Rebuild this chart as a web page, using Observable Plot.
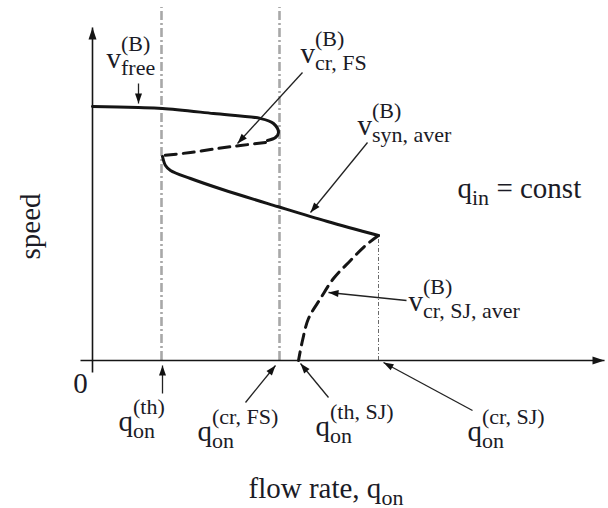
<!DOCTYPE html>
<html>
<head>
<meta charset="utf-8">
<script src="https://cdn.jsdelivr.net/npm/d3@7"></script>
<script src="https://cdn.jsdelivr.net/npm/@observablehq/plot@0.6"></script>
<style>
  body { margin: 0; background: #fff; }
  #chart svg { display: block; }
</style>
</head>
<body>
<div id="chart"></div>
<script>
// Characteristic flow rates on the on-ramp inflow axis (arbitrary units)
const qTh = 6.9;     // q_on^(th)
const qCrFS = 18.7;  // q_on^(cr, FS)
const qCrSJ = 28.6;  // q_on^(cr, SJ)

// Branches of the average speed in the bottleneck, [q_on, speed]
const freeFlowBranch = [[0, 25.4], [4.6, 25.3], [7.0, 25.2], [12.1, 24.7], [16.8, 24.2], [18.1, 23.7], [18.6, 22.8], [18.3, 22.3], [17.5, 22.0]];
const fsCriticalBranch = [[17.3, 21.8], [14.8, 21.5], [12.5, 21.2], [9.8, 20.8], [7.1, 20.5]];
const synchronizedBranch = [[7.0, 20.4], [7.3, 19.5], [7.8, 19.0], [9.8, 18.2], [13.0, 17.1], [18.5, 15.4], [23.5, 13.9], [28.6, 12.5]];
const sjCriticalBranch = [[28.6, 12.5], [27.3, 11.5], [25.8, 10.0], [24.1, 8.2], [22.8, 6.2], [21.6, 4.2], [21.0, 2.0], [20.6, 0]];

// Axes drawn as arrows from the origin
const axisArrows = [
  {x1: -1.2, y1: 0, x2: 51.2, y2: 0},
  {x1: 0, y1: -1.2, x2: 0, y2: 33.3}
];
const guideTop = 35.3;

// Pointers from each label to the feature it names
const pointerArrows = [
  {x1: 4.6, y1: 27.7, x2: 4.6, y2: 25.7},
  {x1: 21.0, y1: 28.8, x2: 14.5, y2: 21.7},
  {x1: 27.5, y1: 21.8, x2: 21.8, y2: 14.8},
  {x1: 31.4, y1: 6.0, x2: 23.6, y2: 6.8},
  {x1: 7.0, y1: -3.3, x2: 7.0, y2: -0.5},
  {x1: 15.3, y1: -4.2, x2: 18.3, y2: -0.5},
  {x1: 23.6, y1: -3.7, x2: 20.8, y2: -0.3},
  {x1: 38.0, y1: -5.0, x2: 29.1, y2: -0.2}
];

// Labels; ^{..} is a superscript, _{..} a subscript
const labels = [
  {q: 1.4, v: 29.3, text: "v^{(B)}_{free}"},
  {q: 20.8, v: 29.8, text: "v^{(B)}_{cr, FS}"},
  {q: 26.5, v: 22.6, text: "v^{(B)}_{syn, aver}"},
  {q: 31.6, v: 5.0, text: "v^{(B)}_{cr, SJ, aver}"},
  {q: 2.6, v: -7.0, text: "q^{(th)}_{on}"},
  {q: 10.5, v: -8.0, text: "q^{(cr, FS)}_{on}"},
  {q: 22.3, v: -7.5, text: "q^{(th, SJ)}_{on}"},
  {q: 37.5, v: -8.0, text: "q^{(cr, SJ)}_{on}"},
  {q: 36.5, v: 16.3, text: "q_{in} = const"},
  {q: 15.6, v: -13.7, text: "flow rate, q_{on}"}
];
const originLabel = [{q: -1.2, v: -3.2, text: "0"}];
const yTitle = [{q: -6.2, v: 13.4, text: "speed"}];

// ---- drawing ----
const W = 608, H = 508;
const INK = "#151515";
const TEXT = "#1b1b26";
const FONT = "'Liberation Serif', 'Times New Roman', serif";
const BASE_SIZE = 29, SMALL_SIZE = 22, SUP_SHIFT = -17, SUB_SHIFT = 7;

// x and y share 10 px per unit, so screen headings follow directly from data
const heading = d => Math.atan2(d.x2 - d.x1, d.y2 - d.y1) * 180 / Math.PI;

// filled arrowhead with its tip at the origin, pointing up before rotation
const headSymbol = (len, wid) => ({
  draw(context) {
    context.moveTo(0, 0);
    context.lineTo(-wid / 2, len);
    context.lineTo(wid / 2, len);
    context.closePath();
  }
});

const px = d => d[0], sp = d => d[1];

const chart = Plot.plot({
  width: W,
  height: H,
  margin: 0,
  x: {domain: [-9.2, 51.6], axis: null},
  y: {domain: [-14.8, 36], axis: null},
  style: {fontFamily: FONT, background: "#fff", overflow: "visible"},
  marks: [
    // dash-dot guides at the critical flow rates
    Plot.ruleX([qTh, qCrFS], {y1: 0, y2: guideTop, stroke: "#a8a8a8", strokeWidth: 2.6, strokeDasharray: "9,3,2,3"}),
    Plot.ruleX([qCrSJ], {y1: 0, y2: synchronizedBranch[synchronizedBranch.length - 1][1], stroke: "#6a6a6a", strokeWidth: 1, strokeDasharray: "4,2,1,2"}),

    // axes
    Plot.link(axisArrows, {x1: "x1", y1: "y1", x2: "x2", y2: "y2", stroke: INK, strokeWidth: 1.6}),
    Plot.dot(axisArrows, {x: "x2", y: "y2", rotate: heading, symbol: headSymbol(12, 8), fill: INK, stroke: null}),

    // speed branches
    Plot.line(freeFlowBranch, {x: px, y: sp, curve: "catmull-rom", stroke: INK, strokeWidth: 3}),
    Plot.line(fsCriticalBranch, {x: px, y: sp, curve: "catmull-rom", stroke: INK, strokeWidth: 3, strokeDasharray: "11,7"}),
    Plot.line(synchronizedBranch, {x: px, y: sp, curve: "catmull-rom", stroke: INK, strokeWidth: 3}),
    Plot.line(sjCriticalBranch, {x: px, y: sp, curve: "catmull-rom", stroke: INK, strokeWidth: 3, strokeDasharray: "11,7"}),

    // label pointers
    Plot.link(pointerArrows, {x1: "x1", y1: "y1", x2: "x2", y2: "y2", stroke: "#222", strokeWidth: 1.3}),
    Plot.dot(pointerArrows, {x: "x2", y: "y2", rotate: heading, symbol: headSymbol(10, 7), fill: "#111", stroke: null}),

    // text
    Plot.text(labels, {x: "q", y: "v", text: "text", textAnchor: "start", lineAnchor: "bottom", fontSize: BASE_SIZE, fill: TEXT}),
    Plot.text(originLabel, {x: "q", y: "v", text: "text", textAnchor: "middle", lineAnchor: "bottom", fontSize: BASE_SIZE, fill: TEXT}),
    Plot.text(yTitle, {x: "q", y: "v", text: "text", rotate: -90, textAnchor: "middle", lineAnchor: "middle", fontSize: BASE_SIZE, fill: TEXT})
  ]
});

document.getElementById("chart").appendChild(chart);

// Turn ^{..} and _{..} markup into stacked superscript / subscript tspans
const SVGNS = "http://www.w3.org/2000/svg";
d3.select(chart).selectAll("text").each(function () {
  const src = this.textContent;
  if (!/[\^_]\{/.test(src)) return;
  const tokens = [];
  const re = /([\^_])\{([^}]*)\}|([^\^_]+)/g;
  let m;
  while ((m = re.exec(src))) {
    if (m[3] != null) tokens.push({kind: "base", t: m[3]});
    else tokens.push({kind: m[1] === "^" ? "sup" : "sub", t: m[2]});
  }
  const anchor = getComputedStyle(this).textAnchor;
  this.textContent = "";
  this.setAttribute("text-anchor", "start");
  this.setAttribute("xml:space", "preserve");
  this.style.whiteSpace = "pre";
  let x = 0, scriptStart = 0, scriptEnd = 0, prev = "base";
  const spans = [];
  for (const tok of tokens) {
    const ts = document.createElementNS(SVGNS, "tspan");
    ts.textContent = tok.t;
    if (tok.kind === "base") {
      if (prev !== "base") x = scriptEnd;
      ts.setAttribute("x", x);
      ts.setAttribute("y", 0);
      this.appendChild(ts);
      x += ts.getComputedTextLength();
      scriptStart = scriptEnd = x;
    } else {
      ts.setAttribute("font-size", SMALL_SIZE);
      ts.setAttribute("x", scriptStart);
      ts.setAttribute("y", tok.kind === "sup" ? SUP_SHIFT : SUB_SHIFT);
      this.appendChild(ts);
      scriptEnd = Math.max(scriptEnd, scriptStart + ts.getComputedTextLength());
    }
    prev = tok.kind;
    spans.push(ts);
  }
  if (anchor === "middle") {
    const total = Math.max(x, scriptEnd);
    for (const ts of spans) ts.setAttribute("x", +ts.getAttribute("x") - total / 2);
  }
});
</script>
</body>
</html>
